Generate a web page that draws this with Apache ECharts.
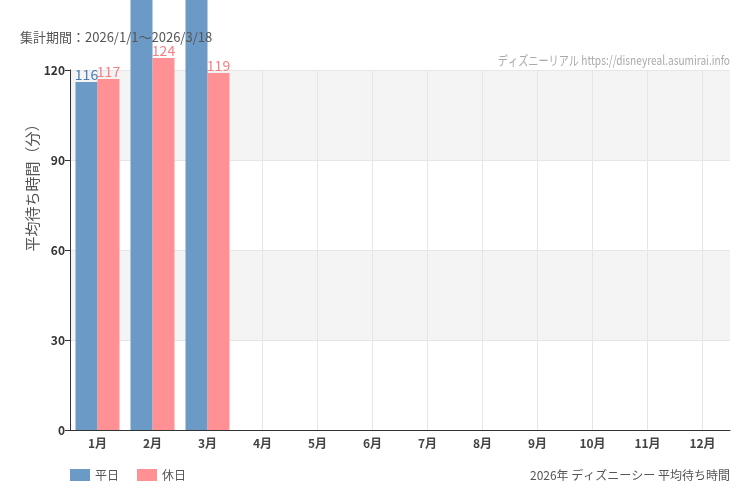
<!DOCTYPE html>
<html><head><meta charset="utf-8">
<script src="https://cdn.jsdelivr.net/npm/echarts@6/dist/echarts.min.js"></script>
<style>html,body{margin:0;padding:0;background:#fff}#c{width:750px;height:500px}</style>
</head><body><div id="c"></div>
<script>
const months = ['1月','2月','3月','4月','5月','6月','7月','8月','9月','10月','11月','12月'];
const weekday = [116, 148, 150, null, null, null, null, null, null, null, null, null];
const holiday = [117, 124, 119, null, null, null, null, null, null, null, null, null];
const yTicks = [0, 30, 60, 90, 120];
const seriesNames = ['平日', '休日'];

const font = '"Noto Sans CJK JP", "Noto Sans", sans-serif';
const chart = echarts.init(document.getElementById('c'));
chart.setOption({
  animation: false,
  textStyle: { fontFamily: font },
  grid: { left: 70, right: 20, top: 70, bottom: 70, containLabel: false },
  graphic: [
    { type: 'text', x: 20, y: 37, z: 100, style: { text: '集計期間：2026/1/1～2026/3/18', fill: '#555', font: '13px ' + font, verticalAlign: 'middle' } },
    { type: 'text', x: 730, y: 60, scaleX: 0.78, style: { text: 'ディズニーリアル https://disneyreal.asumirai.info', fill: '#aaa', font: '13px ' + font, align: 'right', verticalAlign: 'middle' } },
    { type: 'text', x: 730, y: 475, style: { text: '2026年 ディズニーシー 平均待ち時間', fill: '#555', font: '12px ' + font, align: 'right', verticalAlign: 'middle' } },
    { type: 'text', x: 32, y: 184, rotation: Math.PI / 2, style: { text: '平均待ち時間（分）', fill: '#555', font: '15px ' + font, align: 'center', verticalAlign: 'middle' } }
  ],
  legend: {
    left: 65, top: 464, itemWidth: 20, itemHeight: 12, itemGap: 18,
    icon: 'rect',
    textStyle: { color: '#555', fontSize: 12, fontFamily: font },
    data: seriesNames
  },
  xAxis: {
    type: 'category', data: months,
    axisLine: { lineStyle: { color: '#333', width: 1 } },
    axisTick: { alignWithLabel: true, lineStyle: { color: '#333' } },
    axisLabel: { color: '#444', fontSize: 12, fontWeight: 'bold', margin: 7 },
    splitLine: { show: true, alignWithLabel: true, lineStyle: { color: '#e6e6e6' } }
  },
  yAxis: {
    type: 'value', min: yTicks[0], max: yTicks[yTicks.length - 1], interval: 30,
    axisLine: { show: true, lineStyle: { color: '#333' } },
    axisTick: { show: true, length: 5, lineStyle: { color: '#333' } },
    axisLabel: { color: '#333', fontSize: 12, fontWeight: 'bold', margin: 5 },
    splitLine: { show: true, lineStyle: { color: '#e6e6e6' } },
    splitArea: { show: true, areaStyle: { color: ['#ffffff', '#f4f4f4'] } }
  },
  series: [
    {
      name: seriesNames[0], type: 'bar', data: weekday, clip: false,
      barWidth: 22, barGap: '0%',
      itemStyle: { color: '#6b9ac6' },
      label: { show: true, position: 'top', distance: 0, color: '#4a7db5', fontSize: 14, letterSpacing: -1 }
    },
    {
      name: seriesNames[1], type: 'bar', data: holiday, clip: false,
      barWidth: 22,
      itemStyle: { color: '#ff9195' },
      label: { show: true, position: 'top', distance: 0, color: '#f57e82', fontSize: 14, letterSpacing: -1 }
    }
  ]
});
</script></body></html>
